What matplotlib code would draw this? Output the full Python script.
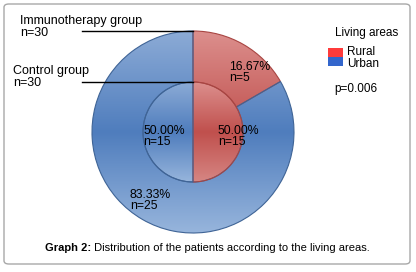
import numpy as np
import matplotlib.pyplot as plt
from matplotlib.colors import LinearSegmentedColormap
from matplotlib.patches import FancyBboxPatch, Rectangle

# data
groups = ['Immunotherapy group', 'Control group']
group_n = [30, 30]
areas = ['Rural', 'Urban']
outer_counts = [5, 25]    # immunotherapy group: rural, urban
inner_counts = [15, 15]   # control group: rural, urban
p_value = '0.006'
caption_bold = 'Graph 2:'
caption_text = ' Distribution of the patients according to the living areas.'

plt.rcParams['font.family'] = ['Liberation Sans', 'DejaVu Sans']

W, H = 416, 272
fig = plt.figure(figsize=(W / 100, H / 100), dpi=100)


def fx(x):
    return x / W


def fy(y):
    return 1 - y / H


# rounded frame (behind the axes)
frame = FancyBboxPatch((fx(4), fy(264)), fx(406), 260 / H,
                       boxstyle='round,pad=0,rounding_size=0.012',
                       transform=fig.transFigure, fc='white', ec='#a8a8a8', lw=1.0,
                       zorder=-5)
fig.patches.append(frame)

# pie axes: centre (193,132) px, radius 101 px
cx, cy, r = 193, 132, 101
ax = fig.add_axes([fx(cx - r), fy(cy + r), 2 * r / W, 2 * r / H])
ax.patch.set_alpha(0)

red = ['#dc8f8d', '#c0504d', '#d68683']
blue = ['#8cabd6', '#4f7dbd', '#97b5dc']
cm_red = LinearSegmentedColormap.from_list('r', red)
cm_blue = LinearSegmentedColormap.from_list('b', blue)

outer, _ = ax.pie(outer_counts, radius=1.0, startangle=90, counterclock=False,
                  wedgeprops=dict(width=0.505))
inner, _ = ax.pie(inner_counts, radius=0.495, startangle=90, counterclock=False)

grad = np.linspace(0, 1, 256).reshape(-1, 1)
for wedges, rad in ((outer, 1.0), (inner, 0.495)):
    for w, cmap, ec in zip(wedges, (cm_red, cm_blue), ('#a84542', '#3f6496')):
        im = ax.imshow(grad, extent=[-rad, rad, -rad, rad], cmap=cmap,
                       origin='upper', aspect='auto', zorder=1)
        im.set_clip_path(w)
        w.set_facecolor('none')
        w.set_edgecolor(ec)
        w.set_linewidth(0.8)
        w.set_zorder(2)

ax.set_xlim(-1, 1)
ax.set_ylim(-1, 1)
ax.set_aspect('auto')
ax.axis('off')

# leader lines to the two rings
ax.plot([-1.1, 0], [1.0, 1.0], color='black', lw=1.0, clip_on=False, zorder=3)
ax.plot([-1.1, 0], [0.495, 0.495], color='black', lw=1.0, clip_on=False, zorder=3)

fs = 9
fig.text(fx(20), fy(15), f'{groups[0]}\nn={group_n[0]}', fontsize=fs, va='top',
         linespacing=1.05)
fig.text(fx(13), fy(65), f'{groups[1]}\nn={group_n[1]}', fontsize=fs, va='top',
         linespacing=1.05)


def pct_label(count, total):
    return f'{100 * count / total:.2f}%\nn={count}'


lab_fs = 8.8
fig.text(fx(229), fy(61), pct_label(outer_counts[0], group_n[0]), fontsize=lab_fs,
         va='top', linespacing=0.85)
fig.text(fx(130), fy(189), pct_label(outer_counts[1], group_n[0]), fontsize=lab_fs,
         va='top', linespacing=0.85)
fig.text(fx(218), fy(125), pct_label(inner_counts[0], group_n[1]), fontsize=lab_fs,
         va='top', linespacing=0.85)
fig.text(fx(143), fy(125), pct_label(inner_counts[1], group_n[1]), fontsize=lab_fs,
         va='top', linespacing=0.85)

# legend
fig.text(fx(335), fy(33), 'Living areas', fontsize=8.5, va='center')
for i, (name, col) in enumerate(zip(areas, ('#ff3b3b', '#3366cc'))):
    y0 = 48 + 9 * i
    fig.patches.append(Rectangle((fx(328), fy(y0 + 9)), fx(15), 9 / H,
                                 transform=fig.transFigure, fc=col, ec='none'))
    fig.text(fx(347), fy(52 + 12 * i), name, fontsize=8.5, va='center')
fig.text(fx(334), fy(89), f'p={p_value}', fontsize=8.5, va='center')

# caption
t = fig.text(fx(45), fy(248), caption_bold, fontsize=8, fontweight='bold', va='center')
fig.canvas.draw()
bb = t.get_window_extent()
fig.text(bb.x1 / W, fy(248), caption_text, fontsize=8, va='center')

fig.savefig('out.png', dpi=100)
